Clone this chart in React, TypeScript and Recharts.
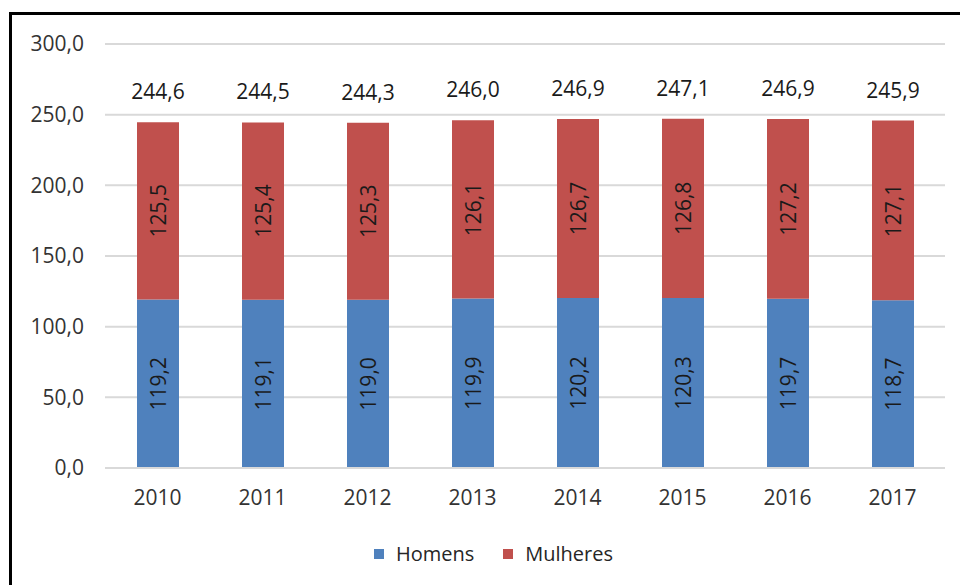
import { BarChart, Bar, XAxis, YAxis, CartesianGrid, Legend, LabelList } from 'recharts';

const years = ['2010', '2011', '2012', '2013', '2014', '2015', '2016', '2017'];
const homens = [119.2, 119.1, 119.0, 119.9, 120.2, 120.3, 119.7, 118.7];
const mulheres = [125.5, 125.4, 125.3, 126.1, 126.7, 126.8, 127.2, 127.1];
const totais = [244.6, 244.5, 244.3, 246.0, 246.9, 247.1, 246.9, 245.9];
const yTicks = [0, 50, 100, 150, 200, 250, 300];

const BLUE = '#4F81BD';
const RED = '#C0504D';
const FONT = '"Open Sans", sans-serif';

const data = years.map((year, i) => ({
  year,
  Homens: homens[i],
  Mulheres: mulheres[i],
}));

const fmt = (v: number) => v.toFixed(1).replace('.', ',');

// value written vertically in the middle of a segment
function InsideLabel(props: any) {
  const { x, y, width, height, value } = props;
  const cx = Number(x) + Number(width) / 2;
  const cy = Number(y) + Number(height) / 2;
  return (
    <text
      x={cx}
      y={cy}
      transform={`rotate(-90 ${cx} ${cy})`}
      textAnchor="middle"
      dominantBaseline="central"
      fontSize={21}
      fontFamily={FONT}
      fill="#1a1a1a"
    >
      {fmt(Number(value))}
    </text>
  );
}

function TotalLabel(props: any) {
  const { x, y, width, index } = props;
  return (
    <text
      x={Number(x) + Number(width) / 2}
      y={Number(y) - 31}
      textAnchor="middle"
      dominantBaseline="central"
      fontSize={21}
      fontFamily={FONT}
      fill="#1a1a1a"
    >
      {fmt(totais[index])}
    </text>
  );
}

function LegendContent({ payload }: any) {
  return (
    <div
      style={{
        display: 'flex',
        justifyContent: 'center',
        gap: 29,
        paddingLeft: 42,
        fontFamily: FONT,
        fontSize: 20,
        color: '#262626',
      }}
    >
      {(payload || []).map((p: any) => (
        <div key={p.value} style={{ display: 'flex', alignItems: 'center', gap: 12 }}>
          <span style={{ width: 10, height: 10, background: p.color, display: 'inline-block' }} />
          <span>{p.value}</span>
        </div>
      ))}
    </div>
  );
}

export default function App() {
  return (
    <div style={{ position: 'absolute', left: 0, top: 0, width: 960, height: 585, overflow: 'hidden', background: '#fff' }}>
      <div
        style={{
          position: 'absolute',
          left: 9,
          top: 12,
          width: 1000,
          height: 600,
          borderTop: '3px solid #000',
          borderLeft: '3px solid #000',
        }}
      />
      <div style={{ position: 'absolute', left: 0, top: 0 }}>
        <BarChart width={960} height={585} data={data} margin={{ top: 44, right: 15, left: 0, bottom: 18 }} barSize={42}>
          <CartesianGrid vertical={false} stroke="#d9d9d9" strokeWidth={2} />
          <XAxis
            dataKey="year"
            height={72}
            tickLine={false}
            axisLine={{ stroke: '#d9d9d9', strokeWidth: 2 }}
            tickMargin={16}
            tick={{ fontSize: 21, fontFamily: FONT, fill: '#333' }}
          />
          <YAxis
            width={105}
            domain={[0, 300]}
            ticks={yTicks}
            tickFormatter={fmt}
            tickLine={false}
            axisLine={false}
            tickMargin={15}
            tick={{ fontSize: 21, fontFamily: FONT, fill: '#333' }}
          />
          <Legend verticalAlign="bottom" content={<LegendContent />} />
          <Bar dataKey="Homens" stackId="a" fill={BLUE} isAnimationActive={false}>
            <LabelList dataKey="Homens" content={<InsideLabel />} />
          </Bar>
          <Bar dataKey="Mulheres" stackId="a" fill={RED} isAnimationActive={false}>
            <LabelList dataKey="Mulheres" content={<InsideLabel />} />
            <LabelList dataKey="Mulheres" content={<TotalLabel />} />
          </Bar>
        </BarChart>
      </div>
    </div>
  );
}
